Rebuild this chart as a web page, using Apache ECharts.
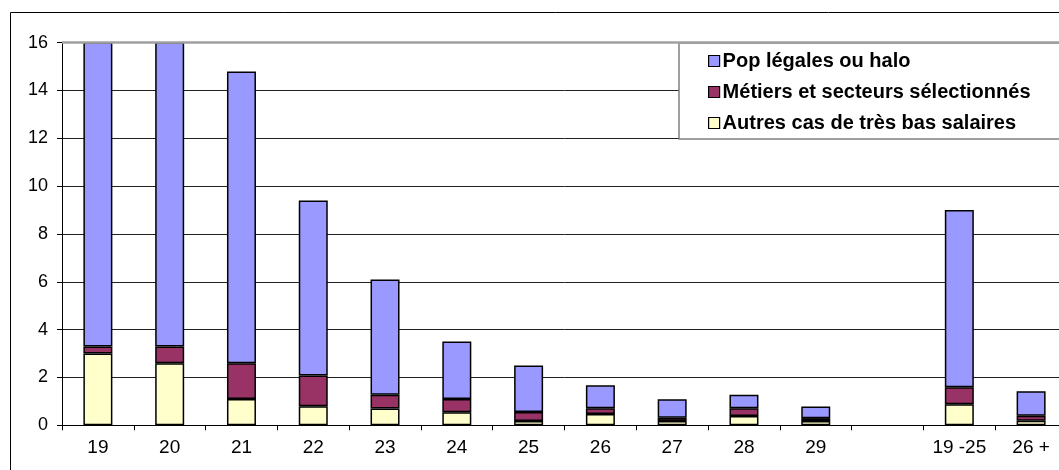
<!DOCTYPE html>
<html>
<head>
<meta charset="utf-8">
<script src="https://cdn.jsdelivr.net/npm/echarts@6/dist/echarts.min.js"></script>
<style>
html,body{margin:0;padding:0;background:#fff;overflow:hidden;width:1059px;height:470px;}
#chart{width:1100px;height:470px;}
</style>
</head>
<body>
<div id="chart"></div>
<script>
var categories = ['19','20','21','22','23','24','25','26','27','28','29','','19 -25','26 +'];
var autres  = [3.0, 2.6, 1.1, 0.8, 0.7, 0.55, 0.18, 0.47, 0.18, 0.39, 0.18, null, 0.88, 0.19];
var metiers = [0.3, 0.7, 1.5, 1.28, 0.58, 0.55, 0.38, 0.24, 0.14, 0.32, 0.12, null, 0.71, 0.21];
var pop     = [14.0, 14.0, 12.2, 7.32, 4.82, 2.4, 1.94, 0.96, 0.77, 0.57, 0.49, null, 7.41, 1.02];
var yTicks = [0, 2, 4, 6, 8, 10, 12, 14, 16];

var FONT = '"Liberation Sans", Arial, sans-serif';
var border = {borderColor:'#000', borderWidth:1.5};
var yMax = yTicks[yTicks.length-1];

var chart = echarts.init(document.getElementById('chart'), null, {renderer:'canvas'});
chart.setOption({
  animation:false,
  backgroundColor:'#fff',
  graphic:[{
    type:'rect', silent:true, z:-10,
    shape:{x:10.5, y:12.5, width:1200, height:600},
    style:{fill:'none', stroke:'#000', lineWidth:1}
  }],
  grid:{left:62, top:42.7, width:1005, height:382.6, containLabel:false},
  legend:{
    orient:'vertical',
    left:679, top:43,
    data:['Pop légales ou halo','Métiers et secteurs sélectionnés','Autres cas de très bas salaires'],
    icon:'rect', itemWidth:11, itemHeight:11, itemGap:11,
    padding:[8, 60, 6, 29],
    backgroundColor:'#fff', borderColor:'#808080', borderWidth:1.5,
    textStyle:{fontFamily:FONT, fontWeight:'bold', fontSize:20, color:'#000', padding:[0,0,0,-2]},
    itemStyle:{borderColor:'#000', borderWidth:1.2}
  },
  xAxis:{
    type:'category', data:categories,
    axisLine:{lineStyle:{color:'#000', width:1}},
    axisTick:{show:true, length:5, lineStyle:{color:'#000'}},
    axisLabel:{fontFamily:FONT, fontSize:19, color:'#000', margin:13, interval:0},
    splitLine:{show:false}
  },
  yAxis:{
    type:'value', min:yTicks[0], max:yMax, interval:2,
    axisLine:{show:true, lineStyle:{color:'#000', width:1}},
    axisTick:{show:true, length:5, lineStyle:{color:'#000'}},
    axisLabel:{fontFamily:FONT, fontSize:18, color:'#000', margin:14},
    splitLine:{show:true, lineStyle:{color:'#222', width:1}}
  },
  series:[
    {name:'Autres cas de très bas salaires', type:'bar', stack:'s', data:autres, barWidth:29,
     itemStyle:Object.assign({color:'#FFFFCC'}, border)},
    {name:'Métiers et secteurs sélectionnés', type:'bar', stack:'s', data:metiers, barWidth:29,
     itemStyle:Object.assign({color:'#993366'}, border)},
    {name:'Pop légales ou halo', type:'bar', stack:'s', data:pop, barWidth:29,
     itemStyle:Object.assign({color:'#9999FF'}, border),
     markLine:{
       silent:true, symbol:['none','none'], label:{show:false},
       lineStyle:{color:'#a0a0a0', width:2.5, type:'solid'},
       emphasis:{disabled:true},
       data:[{yAxis:yMax}]
     }}
  ]
});
</script>
</body>
</html>
